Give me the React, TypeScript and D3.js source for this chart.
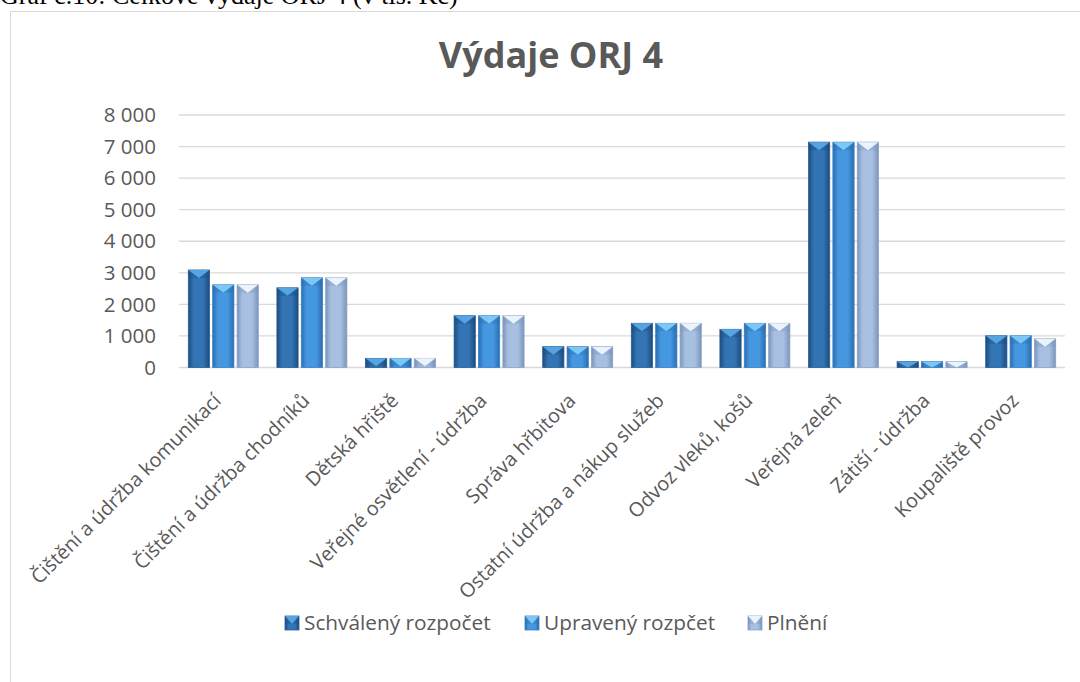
import React from "react";
import * as d3 from "d3";

const categories = [
  "Čištění a údržba komunikací",
  "Čištění a údržba chodníků",
  "Dětská hřiště",
  "Veřejné osvětlení - údržba",
  "Správa hřbitova",
  "Ostatní údržba a nákup služeb",
  "Odvoz vleků, košů",
  "Veřejná zeleň",
  "Zátiší - údržba",
  "Koupaliště provoz",
];
const seriesNames = ["Schválený rozpočet", "Upravený rozpčet", "Plnění"];
const schvaleny = [3090, 2525, 290, 1640, 660, 1400, 1210, 7140, 185, 1005];
const upraveny = [2620, 2842, 290, 1640, 660, 1400, 1400, 7140, 185, 1005];
const plneni = [2620, 2842, 290, 1640, 660, 1400, 1400, 7140, 185, 910];
const yTicks = [0, 1000, 2000, 3000, 4000, 5000, 6000, 7000, 8000];

const seriesValues = [schvaleny, upraveny, plneni];

const palettes = [
  { edge: "#1d4c7d", mid: "#3274b4", cap: "#5aa7e6", line: "#2a5f96" },
  { edge: "#2a6eb0", mid: "#4597e0", cap: "#7fcaf6", line: "#3a80c4" },
  { edge: "#7b95bb", mid: "#a7c0e2", cap: "#eef5fc", line: "#8aa3c6" },
];

const fmt = (v: number) => {
  const s = d3.format(",")(v);
  return s.replace(/,/g, " ");
};

const FONT = "'Open Sans', sans-serif";

export default function App() {
  const W = 1080;
  const H = 682;
  const x0 = d3.scaleBand<string>().domain(categories).range([179, 1065]).paddingInner(0).paddingOuter(0);
  const step = x0.step();
  const x1 = d3
    .scaleBand<number>()
    .domain([0, 1, 2])
    .range([step * 0.105, step * 0.895])
    .paddingInner(0.13)
    .paddingOuter(0);
  const y = d3.scaleLinear().domain([0, 8000]).range([367.5, 115]);
  const bw = x1.bandwidth();

  const bar = (key: string, bx: number, by: number, w: number, h: number, si: number) => {
    const p = palettes[si];
    const cap = Math.min(8, h);
    return (
      <g key={key}>
        <rect x={bx} y={by} width={w} height={h} fill={`url(#grad${si})`} stroke={p.line} strokeWidth={0.8} />
        <polygon points={`${bx},${by} ${bx + w},${by} ${bx + w / 2},${by + cap}`} fill={p.cap} opacity={0.95} />
        <polygon points={`${bx},${by} ${bx + w / 2},${by + cap} ${bx},${by + cap}`} fill={p.edge} opacity={0.35} />
        <polygon points={`${bx + w},${by} ${bx + w / 2},${by + cap} ${bx + w},${by + cap}`} fill={p.edge} opacity={0.35} />
      </g>
    );
  };

  const legendItems = [
    { x: 285, tx: 304 },
    { x: 525, tx: 544 },
    { x: 748, tx: 767 },
  ];

  return (
    <svg width={W} height={H} style={{ position: "absolute", left: 0, top: 0, background: "#fff" }}>
      <defs>
        {palettes.map((p, i) => (
          <linearGradient key={i} id={`grad${i}`} x1="0" x2="1" y1="0" y2="0">
            <stop offset="0" stopColor={p.edge} />
            <stop offset="0.25" stopColor={p.mid} />
            <stop offset="0.7" stopColor={p.mid} />
            <stop offset="1" stopColor={p.edge} />
          </linearGradient>
        ))}
      </defs>
      <text x={0} y={4} fontFamily="'Liberation Serif', 'Times New Roman', serif" fontSize={26} fill="#000">
        Graf č.10: Celkové výdaje ORJ 4 (v tis. Kč)
      </text>
      <rect x={10.5} y={11.5} width={1100} height={700} fill="#fff" stroke="#d9d9d9" strokeWidth={1} />
      <text x={551} y={68} textAnchor="middle" fontFamily={FONT} fontWeight={700} fontSize={36} fill="#595959">
        Výdaje ORJ 4
      </text>
      {yTicks.map((t) => (
        <g key={t}>
          <line x1={179} x2={1065} y1={y(t)} y2={y(t)} stroke="#d9d9d9" strokeWidth={1.3} />
          <text x={156} y={y(t)} dy="0.35em" textAnchor="end" fontFamily={FONT} fontSize={20.5} fill="#595959">
            {fmt(t)}
          </text>
        </g>
      ))}
      {categories.map((c, ci) =>
        seriesValues.map((vals, si) => {
          const bx = (x0(c) as number) + (x1(si) as number);
          const by = y(vals[ci]);
          return bar(`${ci}-${si}`, bx, by, bw, y(0) - by, si);
        })
      )}
      {categories.map((c) => {
        const cx = (x0(c) as number) + step / 2;
        return (
          <text
            key={c}
            transform={`translate(${cx - 1},${402}) rotate(-45)`}
            textAnchor="end"
            fontFamily={FONT}
            fontSize={19.8}
            fill="#595959"
          >
            {c}
          </text>
        );
      })}
      {seriesNames.map((n, i) => (
        <g key={n}>
          {bar(`lg${i}`, legendItems[i].x, 616, 14, 14, i)}
          <text x={legendItems[i].tx} y={623} dy="0.35em" fontFamily={FONT} fontSize={20.8} fill="#595959">
            {n}
          </text>
        </g>
      ))}
    </svg>
  );
}
